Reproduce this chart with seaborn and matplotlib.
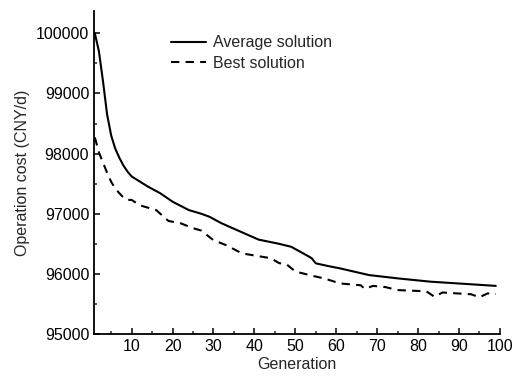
import pandas as pd
import matplotlib
matplotlib.use("Agg")
import matplotlib.pyplot as plt
import seaborn as sns

# Valeurs
avg_gen = [1, 2, 3, 4, 5, 6, 7, 8, 9, 10, 14, 17, 20, 24, 27, 29, 32, 36, 41, 46, 49,
           53, 54, 55, 58, 61, 68, 75, 83, 99]
avg_cost = [100000, 99700, 99200, 98650, 98300, 98080, 97930, 97800, 97700, 97620,
            97450, 97340, 97200, 97060, 97000, 96950, 96840, 96720, 96570, 96500,
            96450, 96300, 96260, 96175, 96130, 96090, 95980, 95925, 95870, 95800]

best_gen = [1, 2, 3, 4, 5, 6, 7, 8, 9, 10, 12, 16, 19, 22, 25, 27, 30, 33, 37, 44,
            46, 48, 50, 54, 57, 61, 66, 67, 69, 72, 75, 82, 84, 86, 93, 95, 97, 99]
best_cost = [98270, 98020, 97850, 97680, 97530, 97420, 97340, 97270, 97230, 97230,
             97140, 97060, 96880, 96840, 96760, 96720, 96560, 96480, 96340, 96260,
             96180, 96150, 96040, 95970, 95925, 95840, 95810, 95750, 95800, 95780,
             95730, 95710, 95620, 95690, 95660, 95610, 95675, 95665]

x_ticks = [10, 20, 30, 40, 50, 60, 70, 80, 90, 100]
y_ticks = [95000, 96000, 97000, 98000, 99000, 100000]

df_avg = pd.DataFrame({"Generation": avg_gen, "Cost": avg_cost})
df_best = pd.DataFrame({"Generation": best_gen, "Cost": best_cost})

sns.set_style("ticks")
plt.rcParams["font.family"] = ["Liberation Sans", "DejaVu Sans"]
plt.rcParams["font.size"] = 11.5

fig = plt.figure(figsize=(5.18, 3.83), dpi=100)
ax = fig.add_axes([0.1815, 0.128, 0.7835, 0.843])

sns.lineplot(data=df_avg, x="Generation", y="Cost", ax=ax, color="black",
             lw=1.5, label="Average solution")
sns.lineplot(data=df_best, x="Generation", y="Cost", ax=ax, color="black",
             lw=1.5, linestyle=(0, (4, 3)), label="Best solution")

ax.set_xlim(0.8, 100)
ax.set_ylim(95000, 100370)
ax.set_xticks(x_ticks)
ax.set_yticks(y_ticks)
ax.set_xticks(range(5, 101, 10), minor=True)
ax.set_yticks(range(95500, 100001, 1000), minor=True)
ax.tick_params(which="major", direction="in", length=4.5, width=1.1,
               labelsize=11.5, colors="black")
ax.tick_params(which="minor", direction="in", length=2.5, width=1.1)
for side in ["top", "right"]:
    ax.spines[side].set_visible(False)
for side in ["left", "bottom"]:
    ax.spines[side].set_linewidth(1.3)
    ax.spines[side].set_color("black")

ax.set_xlabel("Generation", fontsize=11.5, labelpad=2)
ax.set_ylabel("Operation cost (CNY/d)", fontsize=11.5, labelpad=4)

ax.legend(loc="upper left", bbox_to_anchor=(0.19, 0.925), frameon=False,
          fontsize=11.5, handlelength=2.2, handletextpad=0.4, labelspacing=0.35,
          borderpad=0, borderaxespad=0)

fig.savefig("out.png", dpi=100)
